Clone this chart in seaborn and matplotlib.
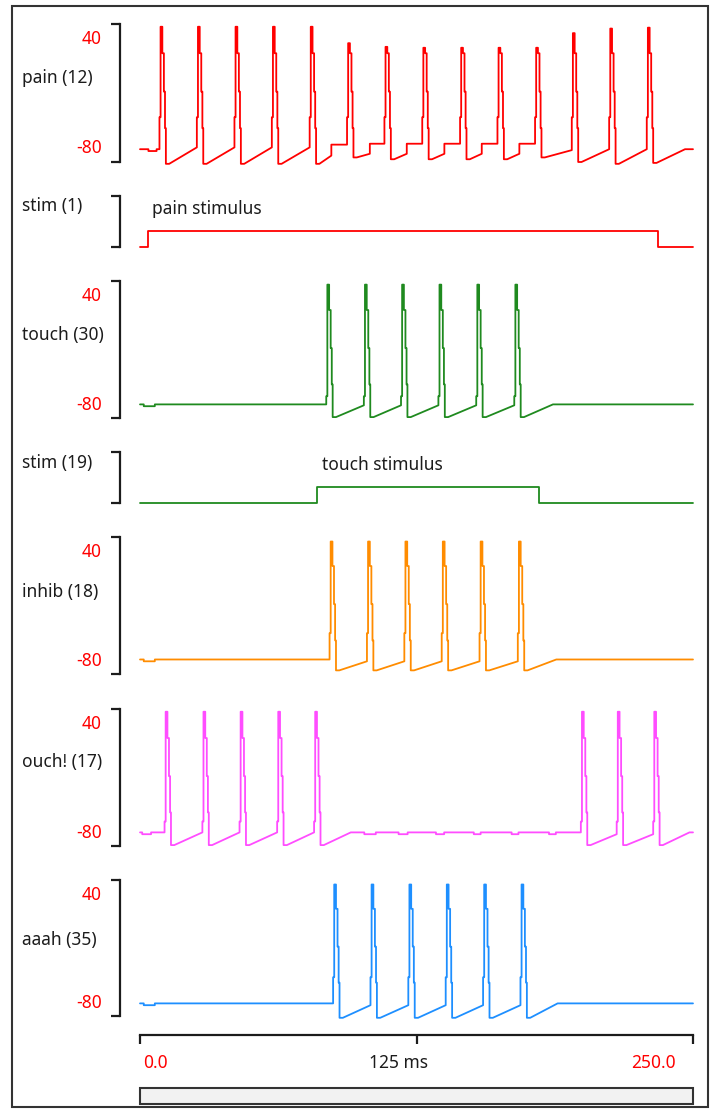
import matplotlib
matplotlib.use("Agg")
import matplotlib.pyplot as plt
import matplotlib.transforms as mtransforms
from matplotlib.patches import Rectangle
import pandas as pd
import seaborn as sns

# ==================== DATA (ms / mV) ====================
T_MAX = 250.0
V_LIM = (-97, 54)
V_TICKS = [40, -80]
STIM_LIM = (0, 3.2)

# spike shape shared by every cell: start of each level after onset (ms)
SPIKE_DT = [0.0, 0.5, 1.3, 2.0, 2.5, 2.9]
SPIKE_FALL = [22, -20, -60]
TROUGH_HOLD = 1.5

# pain (12)
PAIN_ONSET = [8.8, 25.7, 42.7, 59.6, 76.7, 93.6, 110.5, 127.6, 144.7, 161.6, 178.6, 195.2, 212.1, 229.1]
PAIN_PEAK = [51, 51, 51, 51, 51, 33, 29, 28, 28, 28, 28, 44, 49, 50]
PAIN_TROUGH = [-99, -99, -99, -99, -99, -92, -94, -94, -94, -94, -92, -97, -99, -98]
PAIN_PRE = [-83, -81, -81, -81, -81, -78, -77, -77, -77, -77, -77, -84, -83, -83]
PAIN_STEP = [8.8, 25.7, 42.7, 59.6, 76.7, 86.5, 103.9, 120.6, 137.6, 154.5, 171.5, 195.2, 212.1, 229.1]
PAIN_RAMP_TOP = [-83, -81, -81, -81, -81, -90, -88, -88, -88, -88, -88, -84, -83, -83]
PAIN_LEAD_T = [0.0, 3.8, 3.8, 7.5, 7.5]
PAIN_LEAD_V = [-83, -83, -85, -85, -83]
PAIN_TAIL_T = [246.4, 250.0]
PAIN_TAIL_V = [-83, -83]
PAIN_STIM_ON, PAIN_STIM_OFF = 3.8, 234.3

# touch (30)
TOUCH_ONSET = [84.2, 101.2, 118.0, 134.9, 152.0, 169.2]
TOUCH_PEAK = [50, 50, 50, 50, 50, 50]
TOUCH_TROUGH = [-96, -96, -96, -96, -96, -96]
TOUCH_PRE = [-82, -83, -83, -83, -83, -83]
TOUCH_LEAD_T = [0.0, 1.7, 1.7, 6.7, 6.7]
TOUCH_LEAD_V = [-82, -82, -84, -84, -82]
TOUCH_TAIL_T = [186.7, 250.0]
TOUCH_TAIL_V = [-82, -82]
TOUCH_STIM_ON, TOUCH_STIM_OFF = 80.0, 180.5

# inhib (18)
INHIB_ONSET = [85.7, 102.6, 119.5, 136.4, 153.5, 170.8]
INHIB_PEAK = [49, 49, 49, 49, 49, 49]
INHIB_TROUGH = [-93, -93, -93, -93, -93, -93]
INHIB_PRE = [-81, -83, -83, -83, -83, -83]
INHIB_LEAD_T = [0.0, 1.7, 1.7, 6.7, 6.7]
INHIB_LEAD_V = [-81, -81, -83, -83, -81]
INHIB_TAIL_T = [188.2, 250.0]
INHIB_TAIL_V = [-81, -81]

# ouch! (17)
OUCH_ONSET = [11.1, 28.2, 45.0, 62.0, 78.7, 199.3, 215.5, 232.0]
OUCH_PEAK = [51, 51, 51, 51, 51, 51, 51, 51]
OUCH_TROUGH = [-96, -96, -96, -96, -96, -96, -96, -96]
OUCH_PRE = [-82, -82, -82, -82, -82, -82, -84, -84]
OUCH_LEAD_T = [0.0, 1.0, 1.0, 5.0, 5.0]
OUCH_LEAD_V = [-82, -82, -84, -84, -82]
OUCH_RECOVER_T = 95.3
OUCH_DIP_START = [101.4, 116.9, 133.8, 150.9, 168.0, 184.9]
OUCH_DIP_END = [106.6, 121.0, 137.5, 154.0, 171.1, 188.0]
OUCH_TAIL_T = [248.4, 250.0]
OUCH_TAIL_V = [-82, -82]

# aaah (35)
AAAH_ONSET = [87.3, 104.2, 121.3, 138.2, 155.1, 172.0]
AAAH_PEAK = [49, 49, 49, 49, 49, 49]
AAAH_TROUGH = [-99, -99, -99, -99, -99, -99]
AAAH_PRE = [-83, -85, -85, -85, -85, -85]
AAAH_LEAD_T = [0.0, 1.7, 1.7, 6.7, 6.7]
AAAH_LEAD_V = [-83, -83, -85, -85, -83]
AAAH_TAIL_T = [188.8, 250.0]
AAAH_TAIL_V = [-83, -83]

X_TICKS = [0, 125, 250]


# ==================== HELPERS ====================
def build_trace(lead_t, lead_v, onset, peak, trough, pre, prestep, tail_t, tail_v,
                step=None, ramp_top=None, gaps=None):
    """Chain rest waypoints and spikes into one polyline."""
    step = step or onset
    ramp_top = ramp_top or pre
    t, v = list(lead_t), list(lead_v)
    for i, t0 in enumerate(onset):
        if gaps and i in gaps:
            t += gaps[i][0]
            v += gaps[i][1]
        t += [step[i], step[i], t0]
        v += [ramp_top[i], pre[i], pre[i]]
        levels = [prestep, peak[i], *SPIKE_FALL, trough[i]]
        for dt, lv in zip(SPIKE_DT, levels):
            t += [t0 + dt, t0 + dt]
            v += [v[-1], lv]
        t.append(t0 + SPIKE_DT[-1] + TROUGH_HOLD)
        v.append(trough[i])
    t += tail_t
    v += tail_v
    return pd.DataFrame({"t": t, "v": v})


def build_stim(on, off):
    return pd.DataFrame({"t": [0, on, on, off, off, T_MAX], "v": [0, 0, 1, 1, 0, 0]})


def ouch_gap():
    t, v = [OUCH_RECOVER_T], [-82]
    for a, b in zip(OUCH_DIP_START, OUCH_DIP_END):
        t += [a, a, b, b]
        v += [-82, -84, -84, -82]
    return t, v


# ==================== FIGURE ====================
sns.set_style("white")
plt.rcParams["font.family"] = ["Noto Sans", "DejaVu Sans"]
FS = 12.5
INK = "#1c1c1c"
W, H = 715, 1109
fig = plt.figure(figsize=(W / 100, H / 100), dpi=100)

traces = {
    "pain": build_trace(PAIN_LEAD_T, PAIN_LEAD_V, PAIN_ONSET, PAIN_PEAK, PAIN_TROUGH, PAIN_PRE, -48,
                        PAIN_TAIL_T, PAIN_TAIL_V, step=PAIN_STEP, ramp_top=PAIN_RAMP_TOP),
    "stim1": build_stim(PAIN_STIM_ON, PAIN_STIM_OFF),
    "touch": build_trace(TOUCH_LEAD_T, TOUCH_LEAD_V, TOUCH_ONSET, TOUCH_PEAK, TOUCH_TROUGH, TOUCH_PRE, -73,
                         TOUCH_TAIL_T, TOUCH_TAIL_V),
    "stim19": build_stim(TOUCH_STIM_ON, TOUCH_STIM_OFF),
    "inhib": build_trace(INHIB_LEAD_T, INHIB_LEAD_V, INHIB_ONSET, INHIB_PEAK, INHIB_TROUGH, INHIB_PRE, -52,
                         INHIB_TAIL_T, INHIB_TAIL_V),
    "ouch": build_trace(OUCH_LEAD_T, OUCH_LEAD_V, OUCH_ONSET, OUCH_PEAK, OUCH_TROUGH, OUCH_PRE, -70,
                        OUCH_TAIL_T, OUCH_TAIL_V, gaps={5: ouch_gap()}),
    "aaah": build_trace(AAAH_LEAD_T, AAAH_LEAD_V, AAAH_ONSET, AAAH_PEAK, AAAH_TROUGH, AAAH_PRE, -54,
                        AAAH_TAIL_T, AAAH_TAIL_V),
}

# name: (top px, bottom px, colour, label, label y px, voltage panel?)
panels = [
    ("pain", 24, 162, "#ff0000", "pain (12)", 78, True),
    ("stim1", 196, 247, "#ff0000", "stim (1)", 206, False),
    ("touch", 281, 418, "#1f8a1f", "touch (30)", 335, True),
    ("stim19", 452, 503, "#1f8a1f", "stim (19)", 463, False),
    ("inhib", 537, 674, "#ff8c00", "inhib (18)", 592, True),
    ("ouch", 709, 846, "#ff4dff", "ouch! (17)", 762, True),
    ("aaah", 880, 1016, "#1e8fff", "aaah (35)", 940, True),
]

axes = {}
for name, top, bot, color, label, ly, is_v in panels:
    ax = fig.add_axes([140 / W, 1 - bot / H, 553 / W, (bot - top) / H])
    ax.patch.set_alpha(0)
    sns.lineplot(data=traces[name], x="t", y="v", sort=False, estimator=None,
                 color=color, lw=1.3, ax=ax)
    for ln in ax.lines:
        ln.set_clip_on(False)
    ylim = V_LIM if is_v else STIM_LIM
    ax.set_xlim(0, T_MAX)
    ax.set_ylim(*ylim)
    ax.set_xlabel("")
    ax.set_ylabel("")
    sns.despine(ax=ax, top=True, right=True, bottom=True)
    ax.spines["left"].set_position(("outward", 20 * 0.72))
    ax.spines["left"].set_linewidth(1.6)
    ax.spines["left"].set_color(INK)
    ax.set_xticks([])
    if is_v:
        ax.set_yticks(V_TICKS)
        ax.set_yticklabels([str(v) for v in V_TICKS], color="red", fontsize=FS)
    else:
        ax.set_yticks([])
    ax.set_yticks(list(ylim), minor=True)
    ax.tick_params(axis="y", which="major", left=True, length=0, pad=13)
    ax.tick_params(axis="y", which="minor", left=True, length=6.5, width=1.6,
                   color=INK, direction="out")
    fig.text(22 / W, 1 - ly / H, label, ha="left", va="center", fontsize=FS, color=INK)
    axes[name] = ax

# stimulus captions
axes["stim1"].text(5.3, 2.4, "pain stimulus", ha="left", va="center", fontsize=FS, color=INK)
axes["stim19"].text(82.5, 2.4, "touch stimulus", ha="left", va="center", fontsize=FS, color=INK)

# time axis under the last panel
ax = axes["aaah"]
ax.spines["bottom"].set_visible(True)
ax.spines["bottom"].set_position(("outward", 19 * 0.72))
ax.spines["bottom"].set_linewidth(1.6)
ax.spines["bottom"].set_color(INK)
ax.set_xticks(X_TICKS)
ax.set_xticklabels([])
ax.tick_params(axis="x", which="major", bottom=True, length=6.5, width=1.6,
               color=INK, direction="out")
trans = mtransforms.blended_transform_factory(ax.transData, fig.transFigure)
ty = 1 - 1063 / H
ax.text(1.4, ty, "0.0", transform=trans, ha="left", va="center", fontsize=FS, color="red")
ax.text(117.0, ty, "125 ms", transform=trans, ha="center", va="center", fontsize=FS, color=INK)
ax.text(242.0, ty, "250.0", transform=trans, ha="right", va="center", fontsize=FS, color="red")

# scroll bar and outer frame
fig.add_artist(Rectangle((140 / W, 1 - 1104 / H), 553 / W, 16 / H, transform=fig.transFigure,
                         facecolor="#f2f2f2", edgecolor="#333333", lw=1.5))
fig.add_artist(Rectangle((12 / W, 1 - 1107 / H), 696 / W, 1101 / H, transform=fig.transFigure,
                         facecolor="none", edgecolor="#333333", lw=1.5))

fig.savefig("out.png", dpi=100, facecolor="white")
